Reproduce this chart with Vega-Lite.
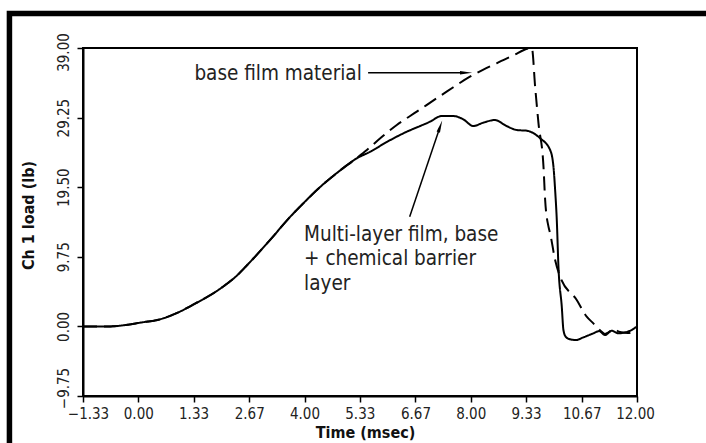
{
  "$schema": "https://vega.github.io/schema/vega-lite/v6.json",
  "width": 554,
  "height": 348,
  "autosize": {"type": "none"},
  "padding": {"left": 83, "top": 48, "right": 69, "bottom": 47},
  "background": "white",
  "config": {
    "font": "DejaVu Sans Condensed, DejaVu Sans",
    "view": {"stroke": "black", "strokeWidth": 2},
    "axis": {
      "grid": false,
      "domainColor": "black",
      "domainWidth": 2,
      "tickColor": "black",
      "tickWidth": 1.5,
      "tickSize": 6,
      "labelColor": "#222",
      "labelFontSize": 15,
      "labelFlush": false,
      "labelOverlap": false,
      "labelBound": false,
      "titleColor": "#111",
      "titleFontSize": 16,
      "titleFontWeight": "bold"
    }
  },
  "datasets": {
    "curves": [
      {"series": "base", "t": -1.33, "load": 0},
      {"series": "base", "t": -0.68, "load": 0},
      {"series": "base", "t": -0.3, "load": 0.2},
      {"series": "base", "t": 0.04, "load": 0.52},
      {"series": "base", "t": 0.52, "load": 0.99},
      {"series": "base", "t": 0.92, "load": 1.85},
      {"series": "base", "t": 1.32, "load": 3.04},
      {"series": "base", "t": 1.97, "load": 5.28},
      {"series": "base", "t": 2.35, "load": 7.0},
      {"series": "base", "t": 2.69, "load": 9.02},
      {"series": "base", "t": 3.2, "load": 12.3},
      {"series": "base", "t": 3.6, "load": 15.0},
      {"series": "base", "t": 3.97, "load": 17.24},
      {"series": "base", "t": 4.37, "load": 19.5},
      {"series": "base", "t": 4.77, "load": 21.45},
      {"series": "base", "t": 5.26, "load": 23.6},
      {"series": "base", "t": 5.5, "load": 24.71},
      {"series": "base", "t": 5.85, "load": 26.5},
      {"series": "base", "t": 6.22, "load": 28.21},
      {"series": "base", "t": 6.7, "load": 30.08},
      {"series": "base", "t": 7.42, "load": 32.88},
      {"series": "base", "t": 7.98, "load": 34.98},
      {"series": "base", "t": 8.62, "load": 36.86},
      {"series": "base", "t": 9.0, "load": 37.9},
      {"series": "base", "t": 9.47, "load": 39.0},
      {"series": "base", "t": 9.55, "load": 33.5},
      {"series": "base", "t": 9.63, "load": 28.45},
      {"series": "base", "t": 9.75, "load": 22.37},
      {"series": "base", "t": 9.79, "load": 17.7},
      {"series": "base", "t": 9.87, "load": 13.97},
      {"series": "base", "t": 9.91, "load": 13.04},
      {"series": "base", "t": 10.03, "load": 9.3},
      {"series": "base", "t": 10.15, "load": 6.96},
      {"series": "base", "t": 10.55, "load": 3.7},
      {"series": "base", "t": 10.79, "load": 1.36},
      {"series": "base", "t": 10.95, "load": 0.43},
      {"series": "base", "t": 11.13, "load": -0.65},
      {"series": "base", "t": 11.23, "load": -1.07},
      {"series": "base", "t": 11.33, "load": -0.79},
      {"series": "base", "t": 11.43, "load": -0.41},
      {"series": "base", "t": 11.59, "load": -0.79},
      {"series": "base", "t": 11.78, "load": -0.93},
      {"series": "base", "t": 12.0, "load": -0.51},
      {"series": "multi", "t": -1.33, "load": 0},
      {"series": "multi", "t": -0.68, "load": 0},
      {"series": "multi", "t": -0.3, "load": 0.2},
      {"series": "multi", "t": 0.04, "load": 0.52},
      {"series": "multi", "t": 0.52, "load": 0.99},
      {"series": "multi", "t": 0.92, "load": 1.85},
      {"series": "multi", "t": 1.32, "load": 3.04},
      {"series": "multi", "t": 1.97, "load": 5.28},
      {"series": "multi", "t": 2.35, "load": 7.0},
      {"series": "multi", "t": 2.69, "load": 9.02},
      {"series": "multi", "t": 3.2, "load": 12.3},
      {"series": "multi", "t": 3.6, "load": 15.0},
      {"series": "multi", "t": 3.97, "load": 17.24},
      {"series": "multi", "t": 4.37, "load": 19.5},
      {"series": "multi", "t": 4.77, "load": 21.45},
      {"series": "multi", "t": 5.26, "load": 23.55},
      {"series": "multi", "t": 5.58, "load": 24.47},
      {"series": "multi", "t": 6.0, "load": 25.9},
      {"series": "multi", "t": 6.38, "load": 27.05},
      {"series": "multi", "t": 7.02, "load": 28.68},
      {"series": "multi", "t": 7.3, "load": 29.47},
      {"series": "multi", "t": 7.58, "load": 29.47},
      {"series": "multi", "t": 7.82, "load": 29.01},
      {"series": "multi", "t": 8.06, "load": 28.07},
      {"series": "multi", "t": 8.3, "load": 28.54},
      {"series": "multi", "t": 8.58, "load": 28.91},
      {"series": "multi", "t": 8.86, "load": 28.07},
      {"series": "multi", "t": 9.11, "load": 27.51},
      {"series": "multi", "t": 9.35, "load": 27.41},
      {"series": "multi", "t": 9.67, "load": 26.35},
      {"series": "multi", "t": 9.91, "load": 24.71},
      {"series": "multi", "t": 9.99, "load": 22.37},
      {"series": "multi", "t": 10.03, "load": 19.11},
      {"series": "multi", "t": 10.07, "load": 14.9},
      {"series": "multi", "t": 10.11, "load": 8.36},
      {"series": "multi", "t": 10.19, "load": 2.76},
      {"series": "multi", "t": 10.23, "load": -0.51},
      {"series": "multi", "t": 10.29, "load": -1.49},
      {"series": "multi", "t": 10.39, "load": -1.81},
      {"series": "multi", "t": 10.53, "load": -1.91},
      {"series": "multi", "t": 10.71, "load": -1.53},
      {"series": "multi", "t": 10.95, "load": -0.97},
      {"series": "multi", "t": 11.09, "load": -0.65},
      {"series": "multi", "t": 11.23, "load": -1.21},
      {"series": "multi", "t": 11.39, "load": -0.6},
      {"series": "multi", "t": 11.55, "load": -0.97},
      {"series": "multi", "t": 11.71, "load": -0.83},
      {"series": "multi", "t": 11.87, "load": -0.51},
      {"series": "multi", "t": 12.0, "load": 0.0}
    ],
    "notes": [
      {"t": 1.35, "load": 34.52, "label": ["base film material"]},
      {"t": 3.99, "load": 12.0, "label": ["Multi-layer film, base", "+ chemical barrier", "layer"]}
    ],
    "arrows": [
      {"t": 5.53, "load": 35.54, "t2": 7.84, "load2": 35.54},
      {"t": 6.53, "load": 15.37, "t2": 7.25, "load2": 27.75}
    ],
    "heads": [
      {"t": 7.84, "load": 35.54, "dir": 90},
      {"t": 7.25, "load": 27.75, "dir": 18.8}
    ]
  },
  "layer": [
    {
      "data": {"values": [{}]},
      "mark": {"type": "rect", "fill": null, "stroke": "black", "strokeWidth": 5.5, "clip": false},
      "encoding": {
        "x": {"datum": -3.1, "type": "quantitative", "scale": {"domain": [-1.33, 12], "nice": false, "zero": false}, "axis": {
          "values": [-1.33, 0, 1.33, 2.67, 4, 5.33, 6.67, 8, 9.33, 10.67, 12],
          "format": ".2f",
          "labelBaseline": "alphabetic",
          "labelPadding": 16.5,
          "labelOffset": {"condition": [{"test": "datum.value < -1", "value": 5}, {"test": "datum.value > 11.9", "value": -2}], "value": 0},
          "title": "Time (msec)",
          "titleBaseline": "alphabetic",
          "titleAlign": "center",
          "titleX": 282,
          "titleY": 41
        }},
        "x2": {"datum": 14.5},
        "y": {"datum": 43.83, "type": "quantitative", "scale": {"domain": [-9.75, 39], "nice": false, "zero": false}, "axis": {
          "values": [-9.75, 0, 9.75, 19.5, 29.25, 39],
          "format": ".2f",
          "labelAngle": -90,
          "labelAlign": "center",
          "labelBaseline": "alphabetic",
          "labelPadding": 9,
          "labelOffset": {"condition": [{"test": "datum.value < -9", "value": -8}, {"test": "datum.value > 38", "value": 4}], "value": 0},
          "title": "Ch 1 load (lb)",
          "titleAngle": -90,
          "titleBaseline": "alphabetic",
          "titleAlign": "center",
          "titleX": -50,
          "titleY": 167
        }},
        "y2": {"datum": -19}
      }
    },
    {
      "data": {"name": "curves"},
      "mark": {"type": "line", "color": "black", "strokeWidth": 2, "interpolate": "monotone"},
      "encoding": {
        "x": {"field": "t", "type": "quantitative"},
        "y": {"field": "load", "type": "quantitative"},
        "strokeDash": {"field": "series", "type": "nominal", "scale": {"domain": ["base", "multi"], "range": [[14, 7], [1, 0]]}, "legend": null}
      }
    },
    {
      "data": {"name": "arrows"},
      "mark": {"type": "rule", "color": "black", "strokeWidth": 1.5},
      "encoding": {
        "x": {"field": "t", "type": "quantitative"},
        "y": {"field": "load", "type": "quantitative"},
        "x2": {"field": "t2"},
        "y2": {"field": "load2"}
      }
    },
    {
      "data": {"name": "heads"},
      "mark": {"type": "point", "shape": "wedge", "filled": true, "color": "black", "size": 200, "opacity": 1},
      "encoding": {
        "x": {"field": "t", "type": "quantitative"},
        "y": {"field": "load", "type": "quantitative"},
        "angle": {"field": "dir", "type": "quantitative", "scale": null}
      }
    },
    {
      "data": {"name": "notes"},
      "mark": {"type": "text", "align": "left", "baseline": "alphabetic", "fontSize": 20.5, "lineHeight": 24.5, "color": "#222"},
      "encoding": {
        "x": {"field": "t", "type": "quantitative"},
        "y": {"field": "load", "type": "quantitative"},
        "text": {"field": "label"}
      }
    }
  ]
}
